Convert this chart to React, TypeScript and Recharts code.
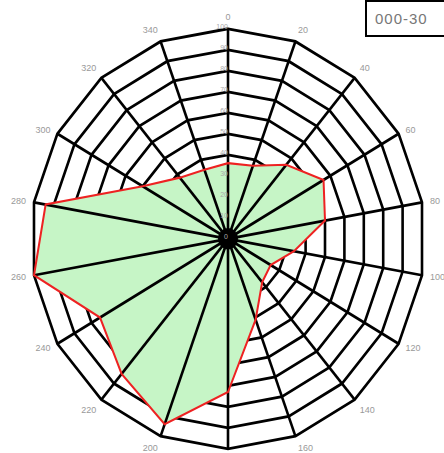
import React from 'react';
import { RadarChart, Radar, PolarGrid, PolarAngleAxis, PolarRadiusAxis } from 'recharts';

const directions = ['0', '20', '40', '60', '80', '100', '120', '140', '160', '180', '200', '220', '240', '260', '280', '300', '320', '340'];
const frequency = [36, 37, 46, 56, 50, 34, 25, 27, 41, 73, 94, 84, 75, 100, 94, 50, 38, 35];
const radiusTicks = [0, 10, 20, 30, 40, 50, 60, 70, 80, 90, 100];
const gridMax = 100;
const legendText = '000-30';

const data = directions.map((d, i) => ({ dir: d, value: frequency[i], outer: gridMax }));

function SpokeShape(props: any) {
  const pts = props.points || [];
  if (!pts.length) return null;
  const cx = pts[0].cx;
  const cy = pts[0].cy;
  return (
    <g>
      {pts.map((p: any, i: number) => (
        <line key={i} x1={cx} y1={cy} x2={p.x} y2={p.y} stroke="#000" strokeWidth={2.6} />
      ))}
      <circle cx={cx} cy={cy} r={10} fill="#000" />
    </g>
  );
}

export default function App() {
  return (
    <div style={{ position: 'absolute', left: 0, top: 0, width: 444, height: 453, overflow: 'hidden', background: '#fff', fontFamily: 'Liberation Sans, Arial, sans-serif' }}>
      <div style={{ transform: 'scaleY(1.066)', transformOrigin: '0 0', width: 444, height: 425 }}>
        <RadarChart width={444} height={425} cx={228} cy={224} outerRadius={197} data={data} startAngle={90} endAngle={-270}>
          <PolarGrid gridType="polygon" radialLines={false} stroke="#000" strokeWidth={2.6} />
          <PolarAngleAxis dataKey="dir" tickLine={false} axisLine={false} tick={{ fill: '#999', fontSize: 9 }} />
          <PolarRadiusAxis angle={90} domain={[0, gridMax]} ticks={radiusTicks as any} tickCount={11} orientation="left" axisLine={false} tickLine={false} tick={{ fill: '#aaa', fontSize: 7 }} />
          <Radar dataKey="value" fill="#c6f5c6" fillOpacity={1} stroke="none" isAnimationActive={false} />
          <Radar dataKey="outer" fill="none" stroke="none" shape={SpokeShape} isAnimationActive={false} />
          <Radar dataKey="value" fill="none" stroke="#ee2222" strokeWidth={2} isAnimationActive={false} />
        </RadarChart>
      </div>
      <div style={{ position: 'absolute', left: 365, top: 0, width: 120, height: 37, border: '2px solid #000', boxSizing: 'border-box', color: '#777', fontSize: 15, lineHeight: '33px', paddingLeft: 8, letterSpacing: 1 }}>
        {legendText}
      </div>
    </div>
  );
}
